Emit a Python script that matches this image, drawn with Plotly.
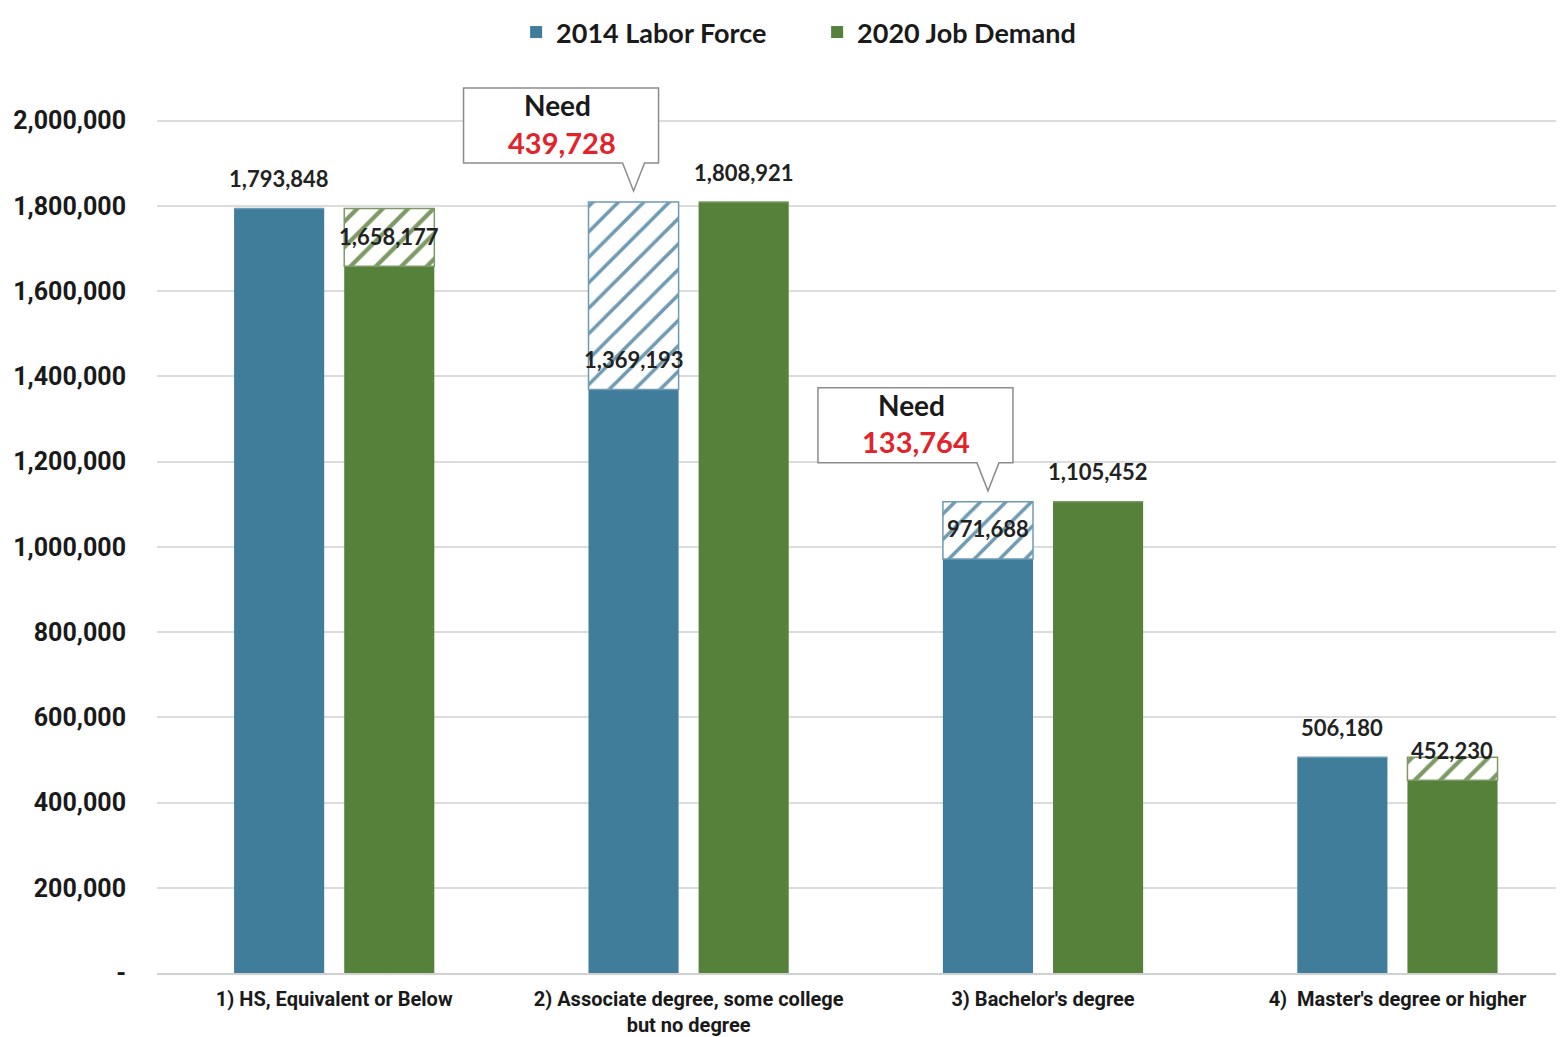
import plotly.graph_objects as go

categories = ["1) HS, Equivalent or Below",
              "2) Associate degree, some college<br>but no degree",
              "3) Bachelor's degree",
              "4)  Master's degree or higher"]
labor_2014 = [1793848, 1369193, 971688, 506180]
demand_2020 = [1658177, 1808921, 1105452, 452230]
y_tickvals = [0, 200000, 400000, 600000, 800000, 1000000, 1200000, 1400000, 1600000, 1800000, 2000000]
y_ticktext = ["-", "200,000", "400,000", "600,000", "800,000", "1,000,000", "1,200,000",
              "1,400,000", "1,600,000", "1,800,000", "2,000,000"]

BLUE = "#3f7d9a"
GREEN = "#55813a"
RED = "#e3232c"
PX_PER_UNIT = 354.0
W = 90 / PX_PER_UNIT
OFF_B = -100 / PX_PER_UNIT
OFF_G = 10 / PX_PER_UNIT

xs = list(range(len(categories)))
gap_blue = [max(d - l, 0) for l, d in zip(labor_2014, demand_2020)]
gap_green = [max(l - d, 0) for l, d in zip(labor_2014, demand_2020)]

fig = go.Figure()
fig.add_trace(go.Bar(x=xs, y=labor_2014, name="2014 Labor Force", marker=dict(color=BLUE, line=dict(width=0)),
                     offset=OFF_B, width=W))
fig.add_trace(go.Bar(x=xs, y=demand_2020, name="2020 Job Demand", marker=dict(color=GREEN, line=dict(width=0)),
                     offset=OFF_G, width=W))
fig.add_trace(go.Bar(x=xs, y=gap_blue, base=labor_2014, showlegend=False, offset=OFF_B, width=W,
                     marker=dict(color="white", line=dict(color="#6f9bb2", width=1.5),
                                 pattern=dict(shape="/", fgcolor="#6f9bb2", bgcolor="white", fgopacity=1,
                                              size=18, solidity=0.2))))
fig.add_trace(go.Bar(x=xs, y=gap_green, base=demand_2020, showlegend=False, offset=OFF_G, width=W,
                     marker=dict(color="white", line=dict(color="#7d9a66", width=1.5),
                                 pattern=dict(shape="/", fgcolor="#7d9a66", bgcolor="white", fgopacity=1,
                                              size=18, solidity=0.24))))

lab_font = dict(family="Lato", size=22, color="#222222", weight="bold")
annotations = []
shapes = []
for i in xs:
    cb = i + OFF_B + W / 2
    cg = i + OFF_G + W / 2
    annotations.append(dict(x=cb, y=labor_2014[i], text=f"{labor_2014[i]:,}", showarrow=False,
                            yanchor="middle", yshift=30, font=lab_font))
    annotations.append(dict(x=cg, y=demand_2020[i], text=f"{demand_2020[i]:,}", showarrow=False,
                            yanchor="middle", yshift=30, font=lab_font))
    if gap_blue[i] > 0:
        top = demand_2020[i]
        path = "M -170,114 L 25,114 L 25,39 L 11,39 L 0,11 L -11,39 L -170,39 Z"
        shapes.append(dict(type="path", xref="x", yref="y", xsizemode="pixel", ysizemode="pixel",
                           xanchor=cb, yanchor=top, path=path, fillcolor="white",
                           line=dict(color="#8c8c8c", width=1.5), layer="above"))
        annotations.append(dict(x=cb, y=top, text="Need", showarrow=False, xshift=-76, yshift=97,
                                yanchor="middle",
                                font=dict(family="Lato", size=28, color="#1a1a1a", weight="bold")))
        annotations.append(dict(x=cb, y=top, text=f"{gap_blue[i]:,}", showarrow=False, xshift=-72, yshift=60,
                                yanchor="middle",
                                font=dict(family="Lato", size=29, color=RED, weight="bold")))

fig.update_layout(
    width=1556, height=1029,
    barmode="overlay",
    plot_bgcolor="white", paper_bgcolor="white",
    margin=dict(l=149, r=0, t=70, b=64),
    showlegend=True,
    legend=dict(orientation="h", xref="container", yref="container", x=0.52, y=1.0,
                xanchor="center", yanchor="top",
                font=dict(family="Lato", size=27, color="#1a1a1a", weight="bold"),
                entrywidth=256, traceorder="normal"),
    xaxis=dict(range=[-0.5, 3.47], tickvals=xs, ticktext=categories, showgrid=False, zeroline=False,
               showline=True, linecolor="#d0d0d0", linewidth=1.5, ticklabelstandoff=7,
               tickfont=dict(family="Roboto", size=20, color="#1a1a1a", weight="bold")),
    yaxis=dict(range=[0, 2100000], tickvals=y_tickvals, ticktext=y_ticktext, showgrid=True,
               gridcolor="#dcdcdc", gridwidth=1.5, zeroline=False, ticklabelstandoff=30,
               tickfont=dict(family="Roboto", size=25, color="#1a1a1a", weight="bold")),
    annotations=annotations,
    shapes=shapes,
)
fig.write_html("out.html")
